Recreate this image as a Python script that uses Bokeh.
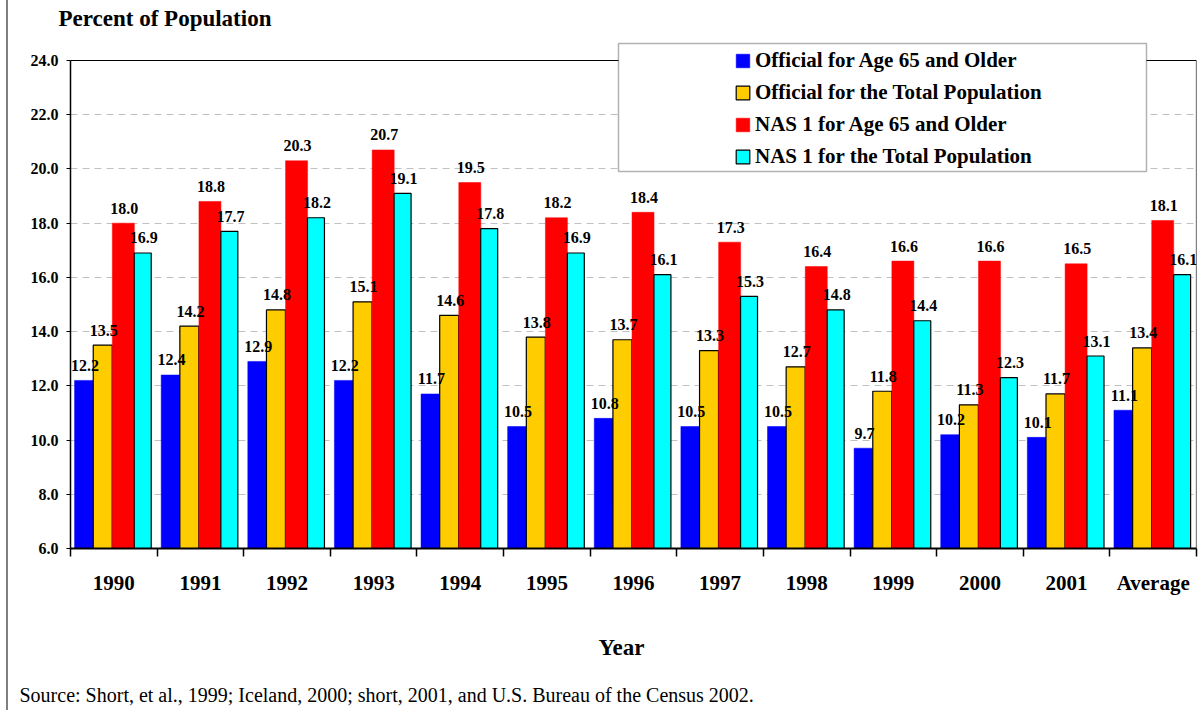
from bokeh.plotting import figure
from bokeh.models import (Range1d, FixedTicker, PrintfTickFormatter, Legend, LegendItem,
                          Title, BoxAnnotation, ColumnDataSource, InlineStyleSheet)
from bokeh.embed import file_html
from bokeh.resources import INLINE
from bokeh.core.properties import value

categories = ["1990", "1991", "1992", "1993", "1994", "1995", "1996", "1997",
              "1998", "1999", "2000", "2001", "Average"]
official_65 = [12.2, 12.4, 12.9, 12.2, 11.7, 10.5, 10.8, 10.5, 10.5, 9.7, 10.2, 10.1, 11.1]
official_total = [13.5, 14.2, 14.8, 15.1, 14.6, 13.8, 13.7, 13.3, 12.7, 11.8, 11.3, 11.7, 13.4]
nas_65 = [18.0, 18.8, 20.3, 20.7, 19.5, 18.2, 18.4, 17.3, 16.4, 16.6, 16.6, 16.5, 18.1]
nas_total = [16.9, 17.7, 18.2, 19.1, 17.8, 16.9, 16.1, 15.3, 14.8, 14.4, 12.3, 13.1, 16.1]
series_names = ["Official for Age 65 and Older", "Official for the Total Population",
                "NAS 1 for Age 65 and Older", "NAS 1 for the Total Population"]
y_ticks = [6.0, 8.0, 10.0, 12.0, 14.0, 16.0, 18.0, 20.0, 22.0, 24.0]
y_min, y_max = 6.0, 24.0

FONT = "Liberation Serif"
n = len(categories)

# frame: left 70, right 1196, axis top (24.0) at 60, bottom at 548; extra headroom up to 36
FRAME_TOP_EXTRA = 24
px_per_unit = 488 / (y_max - y_min)
p = figure(output_backend="svg", toolbar_location=None, width=1204, height=710,
           x_range=Range1d(0, n), y_range=Range1d(y_min, y_max + FRAME_TOP_EXTRA / px_per_unit),
           min_border_left=70, min_border_top=60 - FRAME_TOP_EXTRA, min_border_right=8,
           min_border_bottom=162)
p.background_fill_color = "white"
p.border_fill_color = "white"
p.outline_line_color = None
p.stylesheets = [InlineStyleSheet(css=":host::after { content: ''; position: absolute; left: 6px; "
                                      "top: 0px; width: 2px; height: 100%; background: #7f7f7f; "
                                      "z-index: 10; pointer-events: none; }")]

# series styling: (centre offset within category, width, fill, line)
styles = [
    (0.155, 0.216, "#0000FF", None),
    (0.372, 0.219, "#FFCC00", "black"),
    (0.610, 0.254, "#FF0000", None),
    (0.834, 0.196, "#00FFFF", "black"),
]
series = [official_65, official_total, nas_65, nas_total]
renderers = []
for vals, (off, w, fill, line) in zip(series, styles):
    xs = [i + off for i in range(n)]
    src = ColumnDataSource(dict(x=xs, top=vals))
    r = p.vbar(x="x", top="top", bottom=y_min, width=w, source=src, fill_color=fill,
               line_color=line if line else fill, line_width=1.2 if line else 0.5)
    renderers.append(r)

# plot area top and right border lines (within the frame)
p.segment(x0=[0, n], y0=[y_max, y_min], x1=[n, n], y1=[y_max, y_max],
          line_color="black", line_width=1.2)

for vals, (off, w, fill, line) in zip(series, styles):
    xs = [i + off + 0.012 for i in range(n)]
    src = ColumnDataSource(dict(x=xs, y=vals, lab=["%.1f" % v for v in vals]))
    p.text(x="x", y="y", text="lab", source=src, text_align="center", text_baseline="alphabetic",
           y_offset=-15, text_font=value(FONT), text_font_style="bold", text_font_size="16px",
           text_color="black")

# axes
p.xaxis.ticker = FixedTicker(ticks=[i + 0.5 for i in range(n)], minor_ticks=list(range(n + 1)))
p.xaxis.major_label_overrides = {i + 0.5: c for i, c in enumerate(categories)}
p.xaxis.major_tick_line_color = None
p.xaxis.major_tick_out = 0
p.xaxis.major_tick_in = 0
p.xaxis.minor_tick_line_color = "black"
p.xaxis.minor_tick_out = 8
p.xaxis.minor_tick_in = 0
p.xaxis.minor_tick_line_width = 1.5
p.xaxis.axis_line_color = "black"
p.xaxis.axis_line_width = 2
p.xaxis.major_label_text_font = FONT
p.xaxis.major_label_text_font_style = "bold"
p.xaxis.major_label_text_font_size = "21px"
p.xaxis.major_label_text_color = "black"
p.xaxis.major_label_standoff = 14

p.yaxis.ticker = FixedTicker(ticks=y_ticks, minor_ticks=[])
p.yaxis.bounds = (y_min, y_max)
p.yaxis.formatter = PrintfTickFormatter(format="%.1f")
p.yaxis.axis_line_color = "black"
p.yaxis.axis_line_width = 1.5
p.yaxis.major_tick_line_color = "black"
p.yaxis.major_tick_out = 4
p.yaxis.major_tick_in = 0
p.yaxis.minor_tick_line_color = None
p.yaxis.major_label_text_font = FONT
p.yaxis.major_label_text_font_style = "bold"
p.yaxis.major_label_text_font_size = "16px"
p.yaxis.major_label_text_color = "black"
p.yaxis.major_label_standoff = 8

p.xgrid.grid_line_color = None
p.ygrid.grid_line_color = "#c0c0c0"
p.ygrid.grid_line_dash = "7 5"
p.ygrid.grid_line_width = 1

# screen positions relative to the frame's bottom-left (frame left 70, bottom 548)
FL, FB = 70, 548

box = BoxAnnotation(left=618 - FL, right=1146 - FL, top=FB - 43, bottom=FB - 171,
                    left_units="screen", right_units="screen", top_units="screen", bottom_units="screen",
                    fill_color="white", fill_alpha=1, line_color="black", line_width=1.5)
p.add_layout(box)

legend = Legend(items=[LegendItem(label=s, renderers=[r]) for s, r in zip(series_names, renderers)],
                location=(734 - FL, FB - 169), padding=0, margin=0, spacing=7, label_height=24,
                glyph_width=17, glyph_height=17, label_standoff=4,
                label_text_font=FONT, label_text_font_style="bold", label_text_font_size="21px",
                label_text_color="black",
                background_fill_alpha=0, border_line_color=None)
p.add_layout(legend)

p.add_layout(Title(text="Percent of Population", align="left", offset=-12, vertical_align="top",
                   standoff=8, text_font=FONT, text_font_style="bold", text_font_size="23px",
                   text_color="black"), "above")
# spacer between the axis and the axis title
p.add_layout(Title(text=" ", text_font_size="1px", standoff=13, text_color="white"), "below")
p.add_layout(Title(text="Year", align="left", offset=528, vertical_align="bottom",
                   standoff=39, text_font=FONT, text_font_style="bold", text_font_size="23px",
                   text_color="black"), "below")
p.add_layout(Title(text="Source: Short, et al., 1999; Iceland, 2000; short, 2001, and U.S. Bureau of the Census 2002.",
                   align="left", offset=-51, vertical_align="bottom", standoff=4,
                   text_font=FONT, text_font_style="normal", text_font_size="20px",
                   text_color="black"), "below")

open("out.html", "w").write(file_html(p, INLINE))
